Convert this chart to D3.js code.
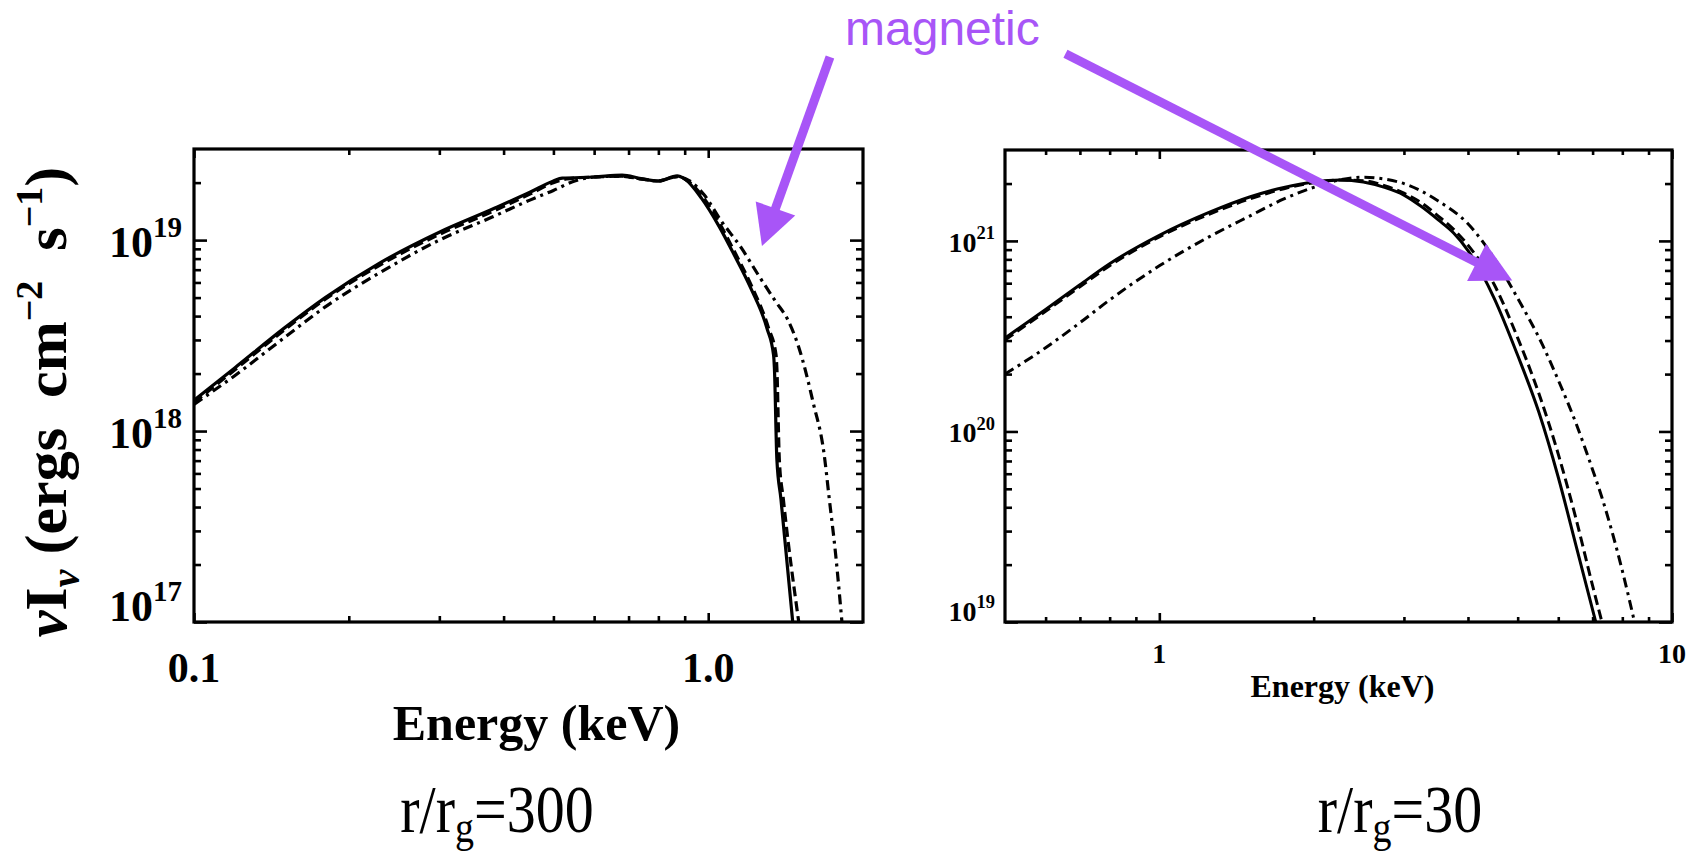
<!DOCTYPE html>
<html>
<head>
<meta charset="utf-8">
<script src="https://cdn.jsdelivr.net/npm/d3@7"></script>
<style>
  body { margin: 0; background: #fff; }
  svg { display: block; }
  text { white-space: pre; }
</style>
</head>
<body>
<svg id="chart"></svg>
<script>
// ---- data: r/rg = 300 panel (energy keV, nu I_nu) ----
const solid300 = [[0.1, 1.45e18], [0.12, 2.14e18], [0.15, 3.47e18], [0.18, 5.0e18], [0.23, 7.6e18],
  [0.3, 1.10e19], [0.38, 1.45e19], [0.45, 1.78e19], [0.5, 2.04e19], [0.52, 2.11e19], [0.6, 2.14e19],
  [0.68, 2.19e19], [0.74, 2.1e19], [0.8, 2.04e19], [0.87, 2.17e19], [0.9, 2.09e19], [0.97, 1.66e19],
  [1.05, 1.18e19], [1.12, 8.5e18], [1.21, 5.6e18], [1.30, 3.47e18], [1.34, 2.5e18], [1.345, 2.14e18],
  [1.36, 7.1e17], [1.385, 4.4e17], [1.46, 1.0e17]];
const dashed300 = [[0.1, 1.41e18], [0.12, 2.09e18], [0.15, 3.39e18], [0.18, 4.9e18], [0.23, 7.4e18],
  [0.3, 1.07e19], [0.38, 1.41e19], [0.45, 1.74e19], [0.5, 2.0e19], [0.53, 2.09e19], [0.6, 2.14e19],
  [0.68, 2.16e19], [0.74, 2.09e19], [0.8, 2.04e19], [0.87, 2.15e19], [0.9, 2.09e19], [0.98, 1.66e19],
  [1.06, 1.18e19], [1.13, 8.5e18], [1.22, 5.6e18], [1.31, 3.47e18], [1.355, 2.5e18], [1.36, 2.14e18],
  [1.375, 7.1e17], [1.40, 4.4e17], [1.50, 1.0e17]];
const dashdot300 = [[0.1, 1.38e18], [0.12, 1.95e18], [0.15, 3.09e18], [0.18, 4.47e18], [0.23, 6.76e18],
  [0.3, 1.0e19], [0.38, 1.32e19], [0.45, 1.62e19], [0.5, 1.82e19], [0.55, 2.04e19], [0.6, 2.14e19],
  [0.68, 2.16e19], [0.74, 2.09e19], [0.8, 2.04e19], [0.87, 2.15e19], [0.92, 2.04e19], [0.98, 1.74e19],
  [1.06, 1.26e19], [1.16, 9.1e18], [1.25, 6.6e18], [1.35, 4.8e18], [1.43, 3.8e18], [1.50, 2.75e18],
  [1.60, 1.41e18], [1.68, 7.6e17], [1.72, 4.4e17], [1.77, 2.24e17], [1.82, 1.0e17]];

// ---- data: r/rg = 30 panel ----
const solid30 = [[0.5, 3.09e20], [0.6, 4.37e20], [0.7, 5.89e20], [0.8, 7.59e20], [1.0, 1.07e21],
  [1.25, 1.41e21], [1.5, 1.70e21], [1.75, 1.91e21], [2.0, 2.04e21], [2.25, 2.09e21], [2.5, 2.04e21],
  [2.75, 1.91e21], [3.0, 1.74e21], [3.25, 1.51e21], [3.5, 1.29e21], [3.75, 1.10e21], [4.0, 8.9e20],
  [4.5, 5.0e20], [5.0, 2.51e20], [5.5, 1.26e20], [6.0, 5.75e19], [6.5, 2.51e19], [7.1, 1.0e19]];
const dashed30 = [[0.5, 3.02e20], [0.6, 4.27e20], [0.7, 5.75e20], [0.8, 7.41e20], [1.0, 1.05e21],
  [1.25, 1.38e21], [1.5, 1.66e21], [1.75, 1.88e21], [2.0, 2.02e21], [2.25, 2.09e21], [2.5, 2.07e21],
  [2.75, 1.95e21], [3.0, 1.78e21], [3.25, 1.58e21], [3.5, 1.35e21], [3.75, 1.15e21], [4.0, 9.5e20],
  [4.5, 5.9e20], [5.0, 3.1e20], [5.5, 1.58e20], [6.0, 7.6e19], [6.5, 3.47e19], [7.0, 1.55e19], [7.3, 1.0e19]];
const dashdot30 = [[0.5, 2.0e20], [0.6, 2.75e20], [0.7, 3.72e20], [0.8, 4.9e20], [1.0, 7.4e20],
  [1.25, 1.05e21], [1.5, 1.35e21], [1.75, 1.66e21], [2.0, 1.91e21], [2.25, 2.09e21], [2.5, 2.16e21],
  [2.75, 2.11e21], [3.0, 2.0e21], [3.5, 1.62e21], [4.0, 1.23e21], [4.5, 8.1e20], [5.0, 5.0e20],
  [5.6, 2.82e20], [6.0, 1.86e20], [6.5, 1.10e20], [7.0, 6.3e19], [7.3, 4.5e19], [8.0, 1.86e19], [8.45, 1.0e19]];

// ---- axis ticks ----
const xMajor300 = [0.1, 1.0], xLabels300 = ["0.1", "1.0"];
const xMinor300 = [0.2, 0.3, 0.4, 0.5, 0.6, 0.7, 0.8, 0.9];
const yMajor300 = [1e17, 1e18, 1e19], yExp300 = ["17", "18", "19"];
const xMajor30 = [1, 10], xLabels30 = ["1", "10"];
const xMinor30 = [0.6, 0.7, 0.8, 0.9, 2, 3, 4, 5, 6, 7, 8, 9];
const yMajor30 = [1e19, 1e20, 1e21], yExp30 = ["19", "20", "21"];

// arrows: [from, to] in the coordinates of the panel they point into
const arrow300 = [[1.725, 9.1e19], [1.272, 9.3e18]];
const arrow30 = [[0.656, 9.6e21], [4.88, 6.2e20]];

const purple = "#a855f7";
const serif = "'Liberation Serif', 'Times New Roman', serif";

let svg = d3.select("#chart").attr("width", 1694).attr("height", 855);
svg.append("rect").attr("width", 1694).attr("height", 855).attr("fill", "#fff");

function logMinor(domain) {
  let out = [];
  for (let e = Math.floor(Math.log10(domain[0])); e <= Math.ceil(Math.log10(domain[1])); e++) {
    for (let m = 2; m <= 9; m++) {
      let v = m * Math.pow(10, e);
      if (v > domain[0] && v < domain[1]) out.push(v);
    }
  }
  return out;
}

function drawPanel(p) {
  let x = d3.scaleLog().domain(p.xDomain).range([p.left, p.right]),
    y = d3.scaleLog().domain(p.yDomain).range([p.bottom, p.top]);
  let g = svg.append("g");

  let clipId = "clip" + p.id;
  svg.append("clipPath").attr("id", clipId).append("rect")
    .attr("x", p.left).attr("y", p.top).attr("width", p.right - p.left).attr("height", p.bottom - p.top);

  let line = d3.line().x((d) => x(d[0])).y((d) => y(d[1])).curve(d3.curveMonotoneX);
  let series = [
    { data: p.dashdot, dash: "10,5,3,5" },
    { data: p.dashed, dash: "10,5" },
    { data: p.solid, dash: null },
  ];
  g.append("g").attr("clip-path", `url(#${clipId})`)
    .selectAll("path").data(series).join("path")
    .attr("d", (d) => line(d.data))
    .attr("fill", "none").attr("stroke", "#000")
    .attr("stroke-width", p.lw)
    .attr("stroke-dasharray", (d) => d.dash);

  // ticks on all four sides, pointing inward
  let yMinor = logMinor(p.yDomain);
  let axes = [
    [d3.axisBottom(x).tickValues(p.xMajor).tickSize(-p.xMajLen), `translate(0,${p.bottom})`],
    [d3.axisBottom(x).tickValues(p.xMinor).tickSize(-p.xMinLen), `translate(0,${p.bottom})`],
    [d3.axisTop(x).tickValues(p.xMajor).tickSize(-p.xMajLen), `translate(0,${p.top})`],
    [d3.axisTop(x).tickValues(p.xMinor).tickSize(-p.xMinLen), `translate(0,${p.top})`],
    [d3.axisLeft(y).tickValues(p.yMajor).tickSize(-p.yMajLen), `translate(${p.left},0)`],
    [d3.axisLeft(y).tickValues(yMinor).tickSize(-p.yMinLen), `translate(${p.left},0)`],
    [d3.axisRight(y).tickValues(p.yMajor).tickSize(-p.yMajLen), `translate(${p.right},0)`],
    [d3.axisRight(y).tickValues(yMinor).tickSize(-p.yMinLen), `translate(${p.right},0)`],
  ];
  axes.forEach(([ax, tr]) => {
    let a = g.append("g").attr("transform", tr).call(ax.tickFormat("").tickSizeOuter(0));
    a.select(".domain").remove();
    a.selectAll("line").attr("stroke", "#000").attr("stroke-width", 2.6);
  });

  g.append("rect")
    .attr("x", p.left).attr("y", p.top)
    .attr("width", p.right - p.left).attr("height", p.bottom - p.top)
    .attr("fill", "none").attr("stroke", "#000").attr("stroke-width", 3.2);

  // x tick labels
  g.selectAll(".xlab").data(p.xMajor).join("text")
    .attr("x", (d) => x(d)).attr("y", p.xLabY)
    .attr("text-anchor", "middle")
    .attr("font-family", serif).attr("font-weight", "bold").attr("font-size", p.xLabSize)
    .text((d, i) => p.xLabels[i]);

  // y tick labels 10^n
  let yl = g.selectAll(".ylab").data(p.yMajor).join("text")
    .attr("x", p.left - p.yLabGap)
    .attr("y", (d) => Math.min(y(d) + p.yLabDy, p.bottom - 1))
    .attr("text-anchor", "end")
    .attr("font-family", serif).attr("font-weight", "bold").attr("font-size", p.yLabSize);
  yl.append("tspan").text("10");
  yl.append("tspan").attr("dy", -p.yLabSize * 0.45).attr("font-size", p.yLabSize * 0.66)
    .text((d, i) => p.yExp[i]);

  // x title
  g.append("text")
    .attr("x", (p.left + p.right) / 2 + p.xTitleDx).attr("y", p.xTitleY)
    .attr("text-anchor", "middle")
    .attr("font-family", serif).attr("font-weight", "bold").attr("font-size", p.xTitleSize)
    .text("Energy (keV)");

  // radius caption under the panel
  let cap = g.append("text")
    .attr("transform", `translate(${p.capX},${p.capY}) scale(1,1.15)`)
    .attr("text-anchor", "middle")
    .attr("font-family", serif).attr("font-size", 58);
  cap.append("tspan").text("r/r");
  cap.append("tspan").attr("dy", 9).attr("font-size", 38).text("g");
  cap.append("tspan").attr("dy", -9).text("=" + p.rg);

  // magnetic arrow
  let a = p.arrow.map((d) => [x(d[0]), y(d[1])]);
  let dx = a[1][0] - a[0][0], dy = a[1][1] - a[0][1], len = Math.hypot(dx, dy);
  let ux = dx / len, uy = dy / len, head = 40, half = 21;
  let bx = a[1][0] - ux * head, by = a[1][1] - uy * head;
  g.append("line")
    .attr("x1", a[0][0]).attr("y1", a[0][1]).attr("x2", bx + ux * 2).attr("y2", by + uy * 2)
    .attr("stroke", purple).attr("stroke-width", 9);
  g.append("path")
    .attr("d", `M${a[1][0]},${a[1][1]}L${bx - uy * half},${by + ux * half}L${bx + uy * half},${by - ux * half}Z`)
    .attr("fill", purple);
}

drawPanel({
  id: 300, xDomain: [0.1, 2.0], yDomain: [1e17, 3e19],
  left: 194, right: 863, top: 149, bottom: 622, lw: 3.2,
  solid: solid300, dashed: dashed300, dashdot: dashdot300,
  xMajor: xMajor300, xMinor: xMinor300, xLabels: xLabels300,
  yMajor: yMajor300, yExp: yExp300,
  xMajLen: 9, xMinLen: 6, yMajLen: 13, yMinLen: 7,
  xLabY: 682, xLabSize: 42, yLabGap: 12, yLabDy: 17, yLabSize: 44,
  xTitleDx: 8, xTitleY: 740, xTitleSize: 50,
  capX: 497, capY: 832, rg: "300", arrow: arrow300,
});

drawPanel({
  id: 30, xDomain: [0.5, 10], yDomain: [1e19, 3e21],
  left: 1005, right: 1672, top: 150, bottom: 622, lw: 3.0,
  solid: solid30, dashed: dashed30, dashdot: dashdot30,
  xMajor: xMajor30, xMinor: xMinor30, xLabels: xLabels30,
  yMajor: yMajor30, yExp: yExp30,
  xMajLen: 9, xMinLen: 5, yMajLen: 13, yMinLen: 7,
  xLabY: 663, xLabSize: 28, yLabGap: 10, yLabDy: 11, yLabSize: 28,
  xTitleDx: 4, xTitleY: 697, xTitleSize: 32,
  capX: 1400, capY: 832, rg: "30", arrow: arrow30,
});

// y axis title of left panel
let yt = svg.append("text")
  .attr("transform", "translate(66,402) rotate(-90)")
  .attr("text-anchor", "middle")
  .attr("font-family", serif).attr("font-weight", "bold").attr("font-size", 60);
yt.append("tspan").attr("font-style", "italic").text("\u03bd");
yt.append("tspan").text("I");
yt.append("tspan").attr("dy", 13).attr("font-size", 40).attr("font-style", "italic").text("\u03bd");
yt.append("tspan").attr("dy", -13).text(" (ergs  cm");
yt.append("tspan").attr("dy", -24).attr("font-size", 38).text("\u22122");
yt.append("tspan").attr("dy", 24).text("  s");
yt.append("tspan").attr("dy", -24).attr("font-size", 38).text("\u22121");
yt.append("tspan").attr("dy", 24).text(")");

// label shared by both arrows
svg.append("text")
  .attr("x", 845).attr("y", 45)
  .attr("font-family", "'Liberation Sans', Arial, sans-serif").attr("font-size", 48)
  .attr("fill", purple)
  .text("magnetic");
</script>
</body>
</html>
